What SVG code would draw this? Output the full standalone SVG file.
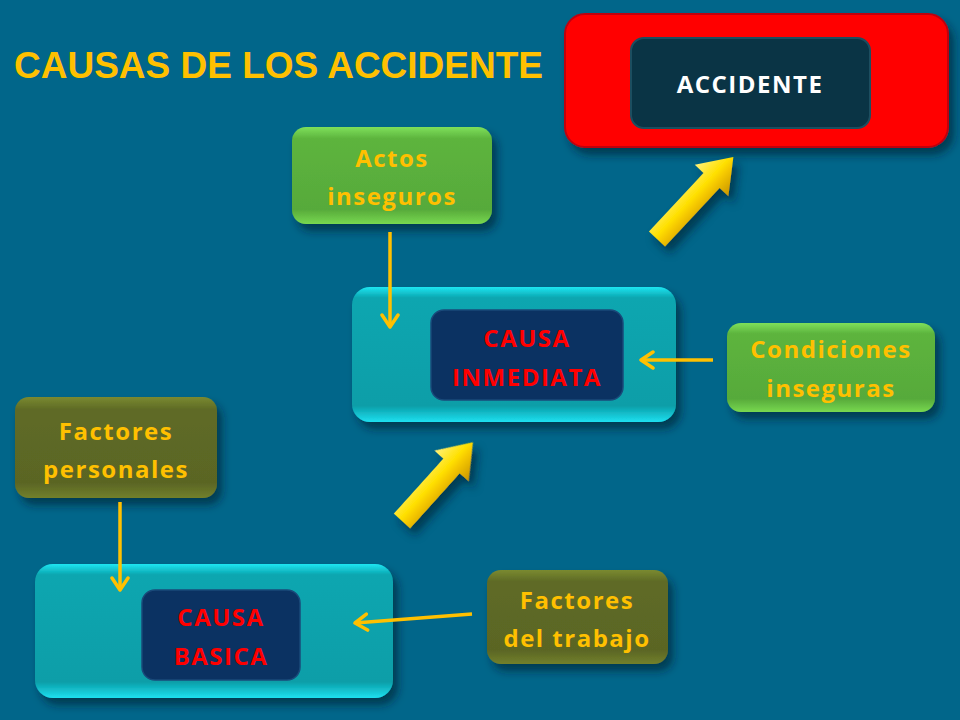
<svg xmlns="http://www.w3.org/2000/svg" width="960" height="720" viewBox="0 0 960 720">
<defs>
<style>
.lbl{font-family:"Open Sans","DejaVu Sans",sans-serif;font-weight:700;font-size:24px;text-anchor:middle;letter-spacing:1.5px}
.yel{fill:#FFC000}
.red{fill:#FF0000}
.conn{stroke:#FFC000;stroke-width:3.5;fill:none}
</style>
<filter id="sh" x="-20%" y="-20%" width="150%" height="160%">
<feDropShadow dx="5" dy="7" stdDeviation="4" flood-color="#00202c" flood-opacity="0.6"/>
</filter>
<linearGradient id="gGreen" x1="0" y1="0" x2="0" y2="1">
<stop offset="0" stop-color="#7EE05A"/>
<stop offset="0.12" stop-color="#5DB43E"/>
<stop offset="0.85" stop-color="#57AA3A"/>
<stop offset="1" stop-color="#78D850"/>
</linearGradient>
<linearGradient id="gOlive" x1="0" y1="0" x2="0" y2="1">
<stop offset="0" stop-color="#7A8A30"/>
<stop offset="0.12" stop-color="#5F6B26"/>
<stop offset="0.85" stop-color="#5A6524"/>
<stop offset="1" stop-color="#72802C"/>
</linearGradient>
<linearGradient id="gTeal" x1="0" y1="0" x2="0" y2="1">
<stop offset="0" stop-color="#1EE6F2"/>
<stop offset="0.08" stop-color="#0BA6B0"/>
<stop offset="0.88" stop-color="#0A9EA8"/>
<stop offset="1" stop-color="#1EE0F0"/>
</linearGradient>
<linearGradient id="gArrow" x1="0" y1="0" x2="0" y2="1">
<stop offset="0" stop-color="#FFF27A"/>
<stop offset="0.45" stop-color="#FFE000"/>
<stop offset="0.6" stop-color="#F5C800"/>
<stop offset="1" stop-color="#C89400"/>
</linearGradient>
<marker id="chev" viewBox="0 0 16 20" refX="14" refY="10" markerWidth="16" markerHeight="20" markerUnits="userSpaceOnUse" orient="auto">
<path d="M2,2 L14,10 L2,18" fill="none" stroke="#FFC000" stroke-width="3.5" stroke-linecap="round" stroke-linejoin="round"/>
</marker>
</defs>
<rect width="960" height="720" fill="#01668A"/>
<text x="14" y="78" font-family="'Liberation Sans',Arial,sans-serif" font-weight="700" font-size="37" fill="#FFC000">CAUSAS DE LOS ACCIDENTE</text>

<g id="accidente">
<rect x="565" y="14" width="383" height="133" rx="20" fill="#FF0000" stroke="#C00010" stroke-width="2" filter="url(#sh)"/>
<rect x="631" y="38" width="239" height="90" rx="13" fill="#0A3445" stroke="#1C4E60" stroke-width="2"/>
<text x="750" y="93" class="lbl" fill="#FFFFFF">ACCIDENTE</text>
</g>

<g id="actos">
<rect x="292" y="127" width="200" height="97" rx="14" fill="url(#gGreen)" filter="url(#sh)"/>
<text x="392" y="167" class="lbl yel">Actos</text>
<text x="392" y="205" class="lbl yel">inseguros</text>
</g>

<g id="causa-inmediata">
<rect x="352" y="287" width="324" height="135" rx="18" fill="url(#gTeal)" filter="url(#sh)"/>
<rect x="431" y="310" width="192" height="90" rx="13" fill="#0B3262" stroke="#1A4A7A" stroke-width="1.5"/>
<text x="527" y="347" class="lbl red">CAUSA</text>
<text x="527" y="386" class="lbl red">INMEDIATA</text>
</g>

<g id="condiciones">
<rect x="727" y="323" width="208" height="89" rx="14" fill="url(#gGreen)" filter="url(#sh)"/>
<text x="831" y="358" class="lbl yel">Condiciones</text>
<text x="831" y="397" class="lbl yel">inseguras</text>
</g>

<g id="factores-personales">
<rect x="15" y="397" width="202" height="101" rx="14" fill="url(#gOlive)" filter="url(#sh)"/>
<text x="116" y="440" class="lbl yel">Factores</text>
<text x="116" y="478" class="lbl yel">personales</text>
</g>

<g id="causa-basica">
<rect x="35" y="564" width="358" height="134" rx="18" fill="url(#gTeal)" filter="url(#sh)"/>
<rect x="142" y="590" width="158" height="90" rx="13" fill="#0B3262" stroke="#1A4A7A" stroke-width="1.5"/>
<text x="221" y="626" class="lbl red">CAUSA</text>
<text x="221" y="665" class="lbl red">BASICA</text>
</g>

<g id="factores-trabajo">
<rect x="487" y="570" width="181" height="94" rx="14" fill="url(#gOlive)" filter="url(#sh)"/>
<text x="577" y="609" class="lbl yel">Factores</text>
<text x="577" y="647" class="lbl yel">del trabajo</text>
</g>

<g id="connectors">
<line x1="390" y1="232" x2="390" y2="327" class="conn" marker-end="url(#chev)"/>
<line x1="713" y1="360" x2="641" y2="360" class="conn" marker-end="url(#chev)"/>
<line x1="120" y1="502" x2="120" y2="590" class="conn" marker-end="url(#chev)"/>
<line x1="472" y1="614" x2="355" y2="623" class="conn" marker-end="url(#chev)"/>
<g filter="url(#sh)">
<polygon transform="translate(657,239) rotate(-47)" points="0,-11 80,-11 80,-23 112,0 80,23 80,11 0,11" fill="url(#gArrow)"/>
<polygon transform="translate(402,521) rotate(-48)" points="0,-11 74,-11 74,-23 106,0 74,23 74,11 0,11" fill="url(#gArrow)"/>
</g>
</g>
</svg>
